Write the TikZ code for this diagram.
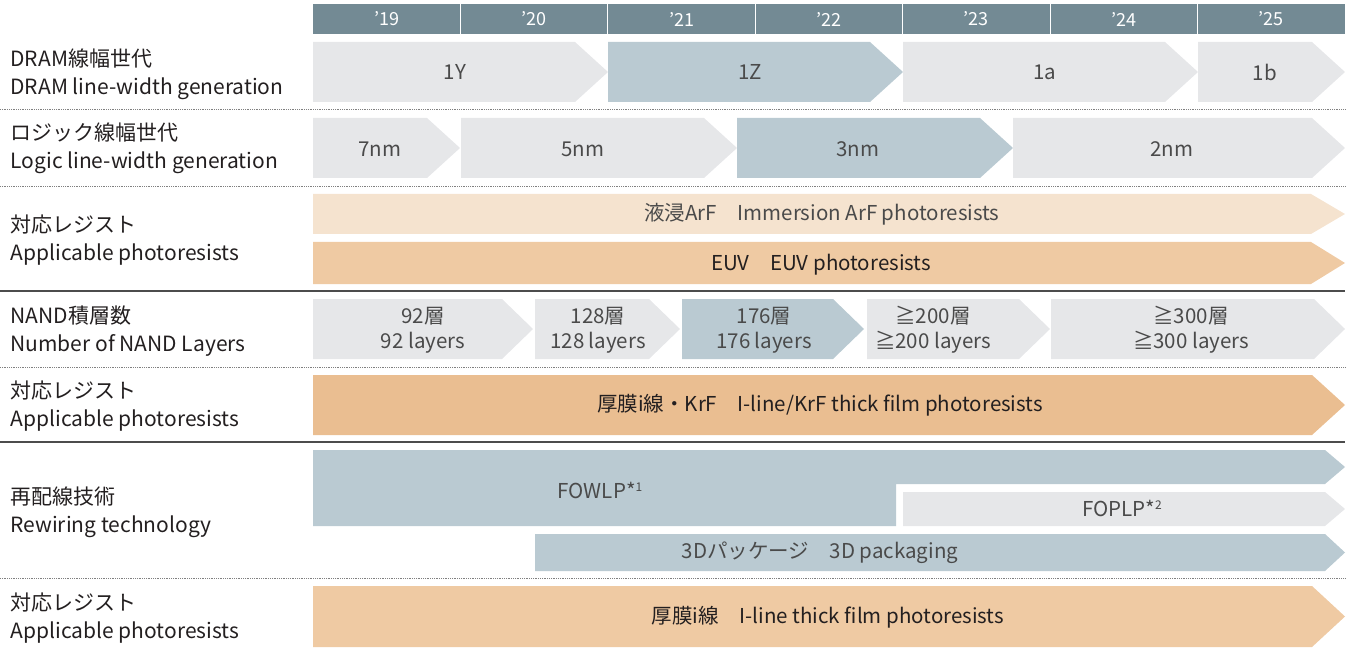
\documentclass[tikz,border=0pt]{standalone}
\usepackage{fontspec}
\setmainfont{Noto Sans CJK JP}
\usetikzlibrary{positioning}
\definecolor{headgray}{HTML}{738A94}
\definecolor{boxgray}{HTML}{E6E7E9}
\definecolor{boxblue}{HTML}{BACAD2}
\definecolor{lightpeach}{HTML}{F5E3CF}
\definecolor{peach}{HTML}{EFCAA3}
\definecolor{deeppeach}{HTML}{EABE91}
\definecolor{labeltxt}{HTML}{231F20}
\definecolor{boxtxt}{HTML}{4A4A4A}

% chevron bar: colour, left, body end, tip, top, bottom
\newcommand\chev[6]{%
  \fill[#1] (#2,#5) -- (#3,#5) -- (#4,{(#5+#6)/2}) -- (#3,#6) -- (#2,#6) -- cycle;}

\begin{document}
\begin{tikzpicture}[x=1pt,y=-1pt,
    rowlabel/.style={anchor=west,align=left,text=labeltxt,
                     font=\fontsize{21}{28}\selectfont},
    boxlabel/.style={align=center,text=boxtxt,
                     font=\fontsize{20.5}{25}\selectfont},
    reslabel/.style={text=labeltxt,font=\fontsize{20.5}{25}\selectfont},
    yearlabel/.style={text=white,font=\fontsize{18}{20}\selectfont},
    dotsep/.style={draw=gray,line width=0.9pt,dash pattern=on 0.9pt off 0.9pt},
    solidsep/.style={draw=black!70,line width=1.4pt}]

  \useasboundingbox (0,0) rectangle (1351,652);

  % year header
  \fill[headgray] (313,4) rectangle (1345,34);
  \foreach \yr [count=\i from 0] in {19,20,21,22,23,24,25} {
    \node[yearlabel] (y\yr) at ({313+147.43*(\i+0.5)},19) {’\yr};
    \ifnum\i>0 \draw[white,line width=1.2pt] ({313+147.43*\i},4) -- ({313+147.43*\i},34); \fi
  }

  % separators
  \draw[dotsep] (0,109) -- (1345,109);
  \draw[dotsep] (0,186) -- (1345,186);
  \draw[solidsep] (0,291) -- (1345,291);
  \draw[dotsep] (0,367) -- (1345,367);
  \draw[solidsep] (0,442) -- (1345,442);
  \draw[dotsep] (0,578) -- (1345,578);

  % row labels
  \node[rowlabel] (dram)  at (7,74)  {DRAM線幅世代\\DRAM line-width generation};
  \node[rowlabel] (logic) at (7,148) {ロジック線幅世代\\Logic line-width generation};
  \node[rowlabel] (res1)  at (7,240) {対応レジスト\\Applicable photoresists};
  \node[rowlabel] (nand)  at (7,331) {NAND積層数\\Number of NAND Layers};
  \node[rowlabel] (res2)  at (7,406) {対応レジスト\\Applicable photoresists};
  \node[rowlabel] (rewire) at (7,512) {再配線技術\\Rewiring technology};
  \node[rowlabel] (res3)  at (7,618) {対応レジスト\\Applicable photoresists};

  % DRAM
  \chev{boxgray}{313}{575}{608}{42}{102}
  \chev{boxblue}{608}{870}{903}{42}{102}
  \chev{boxgray}{903}{1165}{1198}{42}{102}
  \chev{boxgray}{1198}{1312}{1345}{42}{102}
  \node[boxlabel] (d1y) at (455,72)  {1Y};
  \node[boxlabel] (d1z) at (750,72)  {1Z};
  \node[boxlabel] (d1a) at (1045,72) {1a};
  \node[boxlabel] (d1b) at (1265,72) {1b};

  % logic
  \chev{boxgray}{313}{427}{460}{118}{178}
  \chev{boxgray}{461}{704}{737}{118}{178}
  \chev{boxblue}{737}{980}{1013}{118}{178}
  \chev{boxgray}{1013}{1312}{1345}{118}{178}
  \node[boxlabel] (l7) at (380,149)  {7nm};
  \node[boxlabel] (l5) at (583,149)  {5nm};
  \node[boxlabel] (l3) at (858,149)  {3nm};
  \node[boxlabel] (l2) at (1172,149) {2nm};

  % photoresists for logic / DRAM
  \chev{lightpeach}{313}{1311}{1345}{194}{234}
  \chev{peach}{313}{1311}{1345}{242}{284}
  \node[boxlabel] (arf) at (822,214) {液浸ArF\quad Immersion ArF photoresists};
  \node[reslabel] (euv) at (821,265) {EUV\quad EUV photoresists};

  % NAND
  \chev{boxgray}{313}{502}{533}{299}{359}
  \chev{boxgray}{535}{649}{680}{299}{359}
  \chev{boxblue}{682}{833}{864}{299}{359}
  \chev{boxgray}{867}{1019}{1050}{299}{359}
  \chev{boxgray}{1051}{1314}{1345}{299}{359}
  \node[boxlabel] (n92)  at (423,330)  {92層\\92 layers};
  \node[boxlabel] (n128) at (598,330)  {128層\\128 layers};
  \node[boxlabel] (n176) at (764,330)  {176層\\176 layers};
  \node[boxlabel] (n200) at (933,330)  {≧200層\\≧200 layers};
  \node[boxlabel] (n300) at (1191,330) {≧300層\\≧300 layers};

  % photoresists for NAND
  \chev{deeppeach}{313}{1312}{1345}{375}{435}
  \node[reslabel] (krf) at (820,405) {厚膜i線・KrF\quad I-line/KrF thick film photoresists};

  % rewiring
  \fill[boxblue] (313,450) -- (1325,450) -- (1345,467) -- (1325,484)
                 -- (896,484) -- (896,526) -- (313,526) -- cycle;
  \chev{boxgray}{903}{1325}{1345}{492}{526}
  \chev{boxblue}{535}{1325}{1345}{534}{571}
  \node[boxlabel] (fowlp) at (600,490)  {FOWLP*\raisebox{0.6ex}{\fontsize{12}{13}\selectfont 1}};
  \node[boxlabel] (foplp) at (1122,508) {FOPLP*\raisebox{0.6ex}{\fontsize{12}{13}\selectfont 2}};
  \node[boxlabel] (pkg3d) at (820,553)  {3Dパッケージ\quad 3D packaging};

  % photoresists for rewiring
  \chev{peach}{313}{1312}{1345}{586}{647}
  \node[reslabel] (iline) at (828,617) {厚膜i線\quad I-line thick film photoresists};
\end{tikzpicture}
\end{document}
